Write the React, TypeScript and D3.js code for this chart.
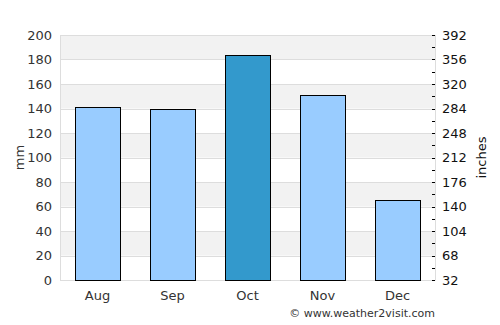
import React, { useEffect, useRef } from 'react';
import * as d3 from 'd3';

const months: string[] = ['Aug', 'Sep', 'Oct', 'Nov', 'Dec'];
const rainfall: number[] = [141, 140, 184, 151, 65];
const highlight: string[] = ['Oct'];
const mmTicks: number[] = [0, 20, 40, 60, 80, 100, 120, 140, 160, 180, 200];
const rightLabels: string[] = ['32', '68', '104', '140', '176', '212', '248', '284', '320', '356', '392'];

const App: React.FC = () => {
  const svgRef = useRef<SVGSVGElement>(null);

  useEffect(() => {
    if (!svgRef.current) return;
    const svg = d3.select(svgRef.current);
    svg.selectAll('*').remove();

    const margin = { top: 35, right: 65, bottom: 45, left: 60 };
    const width = 500;
    const height = 325;
    const innerW = width - margin.left - margin.right;
    const innerH = height - margin.top - margin.bottom;
    const font = 'DejaVu Sans, sans-serif';

    const x = d3.scaleBand<string>().domain(months).range([0, innerW]).paddingInner(0.4).paddingOuter(0.2);
    const y = d3.scaleLinear().domain([0, 200]).range([innerH, 0]);

    const g = svg.append('g').attr('transform', `translate(${margin.left},${margin.top})`);

    // alternating bands
    for (let i = 0; i < mmTicks.length - 1; i++) {
      const lo = mmTicks[i];
      const hi = mmTicks[i + 1];
      g.append('rect')
        .attr('x', 0)
        .attr('y', y(hi))
        .attr('width', innerW)
        .attr('height', y(lo) - y(hi))
        .attr('fill', i % 2 === 1 ? '#f2f2f2' : '#ffffff');
    }

    // gridlines
    g.selectAll('.grid')
      .data(mmTicks)
      .enter()
      .append('line')
      .attr('x1', 0)
      .attr('x2', innerW)
      .attr('y1', d => Math.round(y(d)) + 0.5)
      .attr('y2', d => Math.round(y(d)) + 0.5)
      .attr('stroke', '#dddddd');

    // axis lines
    g.append('line').attr('x1', 0.5).attr('x2', 0.5).attr('y1', 0).attr('y2', innerH + 0.5).attr('stroke', '#dddddd');
    g.append('line').attr('x1', innerW + 0.5).attr('x2', innerW + 0.5).attr('y1', 0).attr('y2', innerH + 0.5).attr('stroke', '#dddddd');

    // bars
    g.selectAll('.bar')
      .data(rainfall)
      .enter()
      .append('rect')
      .attr('x', (_, i) => Math.round(x(months[i])!) + 0.5)
      .attr('y', d => Math.round(y(d)) + 0.5)
      .attr('width', Math.round(x.bandwidth()))
      .attr('height', d => innerH - Math.round(y(d)))
      .attr('fill', (_, i) => (highlight.includes(months[i]) ? '#3399cc' : '#99ccff'))
      .attr('stroke', '#000')
      .attr('stroke-width', 1);

    // left tick labels
    g.selectAll('.ly')
      .data(mmTicks)
      .enter()
      .append('text')
      .attr('x', -8)
      .attr('y', d => y(d))
      .attr('dy', '0.35em')
      .attr('text-anchor', 'end')
      .attr('font-family', font)
      .attr('font-size', 13)
      .attr('fill', '#333')
      .text(d => d);

    // right ticks (major + minor)
    const minor = d3.range(0, 201, 10);
    g.selectAll('.rt')
      .data(minor)
      .enter()
      .append('line')
      .attr('x1', innerW - 3)
      .attr('x2', innerW)
      .attr('y1', d => Math.round(y(d)) + 0.5)
      .attr('y2', d => Math.round(y(d)) + 0.5)
      .attr('stroke', '#000');

    g.selectAll('.ry')
      .data(rightLabels)
      .enter()
      .append('text')
      .attr('x', innerW + 7)
      .attr('y', (_, i) => y(mmTicks[i]))
      .attr('dy', '0.35em')
      .attr('text-anchor', 'start')
      .attr('font-family', font)
      .attr('font-size', 13)
      .attr('fill', '#111')
      .text(d => d);

    // x labels
    g.selectAll('.xl')
      .data(months)
      .enter()
      .append('text')
      .attr('x', d => x(d)! + x.bandwidth() / 2)
      .attr('y', innerH + 15)
      .attr('dy', '0.35em')
      .attr('text-anchor', 'middle')
      .attr('font-family', font)
      .attr('font-size', 13)
      .attr('fill', '#333')
      .text(d => d);

    // axis titles
    svg.append('text')
      .attr('transform', `translate(24,${margin.top + innerH / 2}) rotate(-90)`)
      .attr('text-anchor', 'middle')
      .attr('font-family', font)
      .attr('font-size', 13)
      .attr('fill', '#333')
      .text('mm');

    svg.append('text')
      .attr('transform', `translate(486,${margin.top + innerH / 2}) rotate(-90)`)
      .attr('text-anchor', 'middle')
      .attr('font-family', font)
      .attr('font-size', 13)
      .attr('fill', '#111')
      .text('inches');

    svg.append('text')
      .attr('x', margin.left + innerW)
      .attr('y', 317)
      .attr('text-anchor', 'end')
      .attr('font-family', font)
      .attr('font-size', 11)
      .attr('fill', '#333')
      .text('© www.weather2visit.com');
  }, []);

  return (
    <svg
      ref={svgRef}
      width={500}
      height={325}
      style={{ position: 'absolute', left: 0, top: 0, background: '#fff' }}
    />
  );
};

export default App;
